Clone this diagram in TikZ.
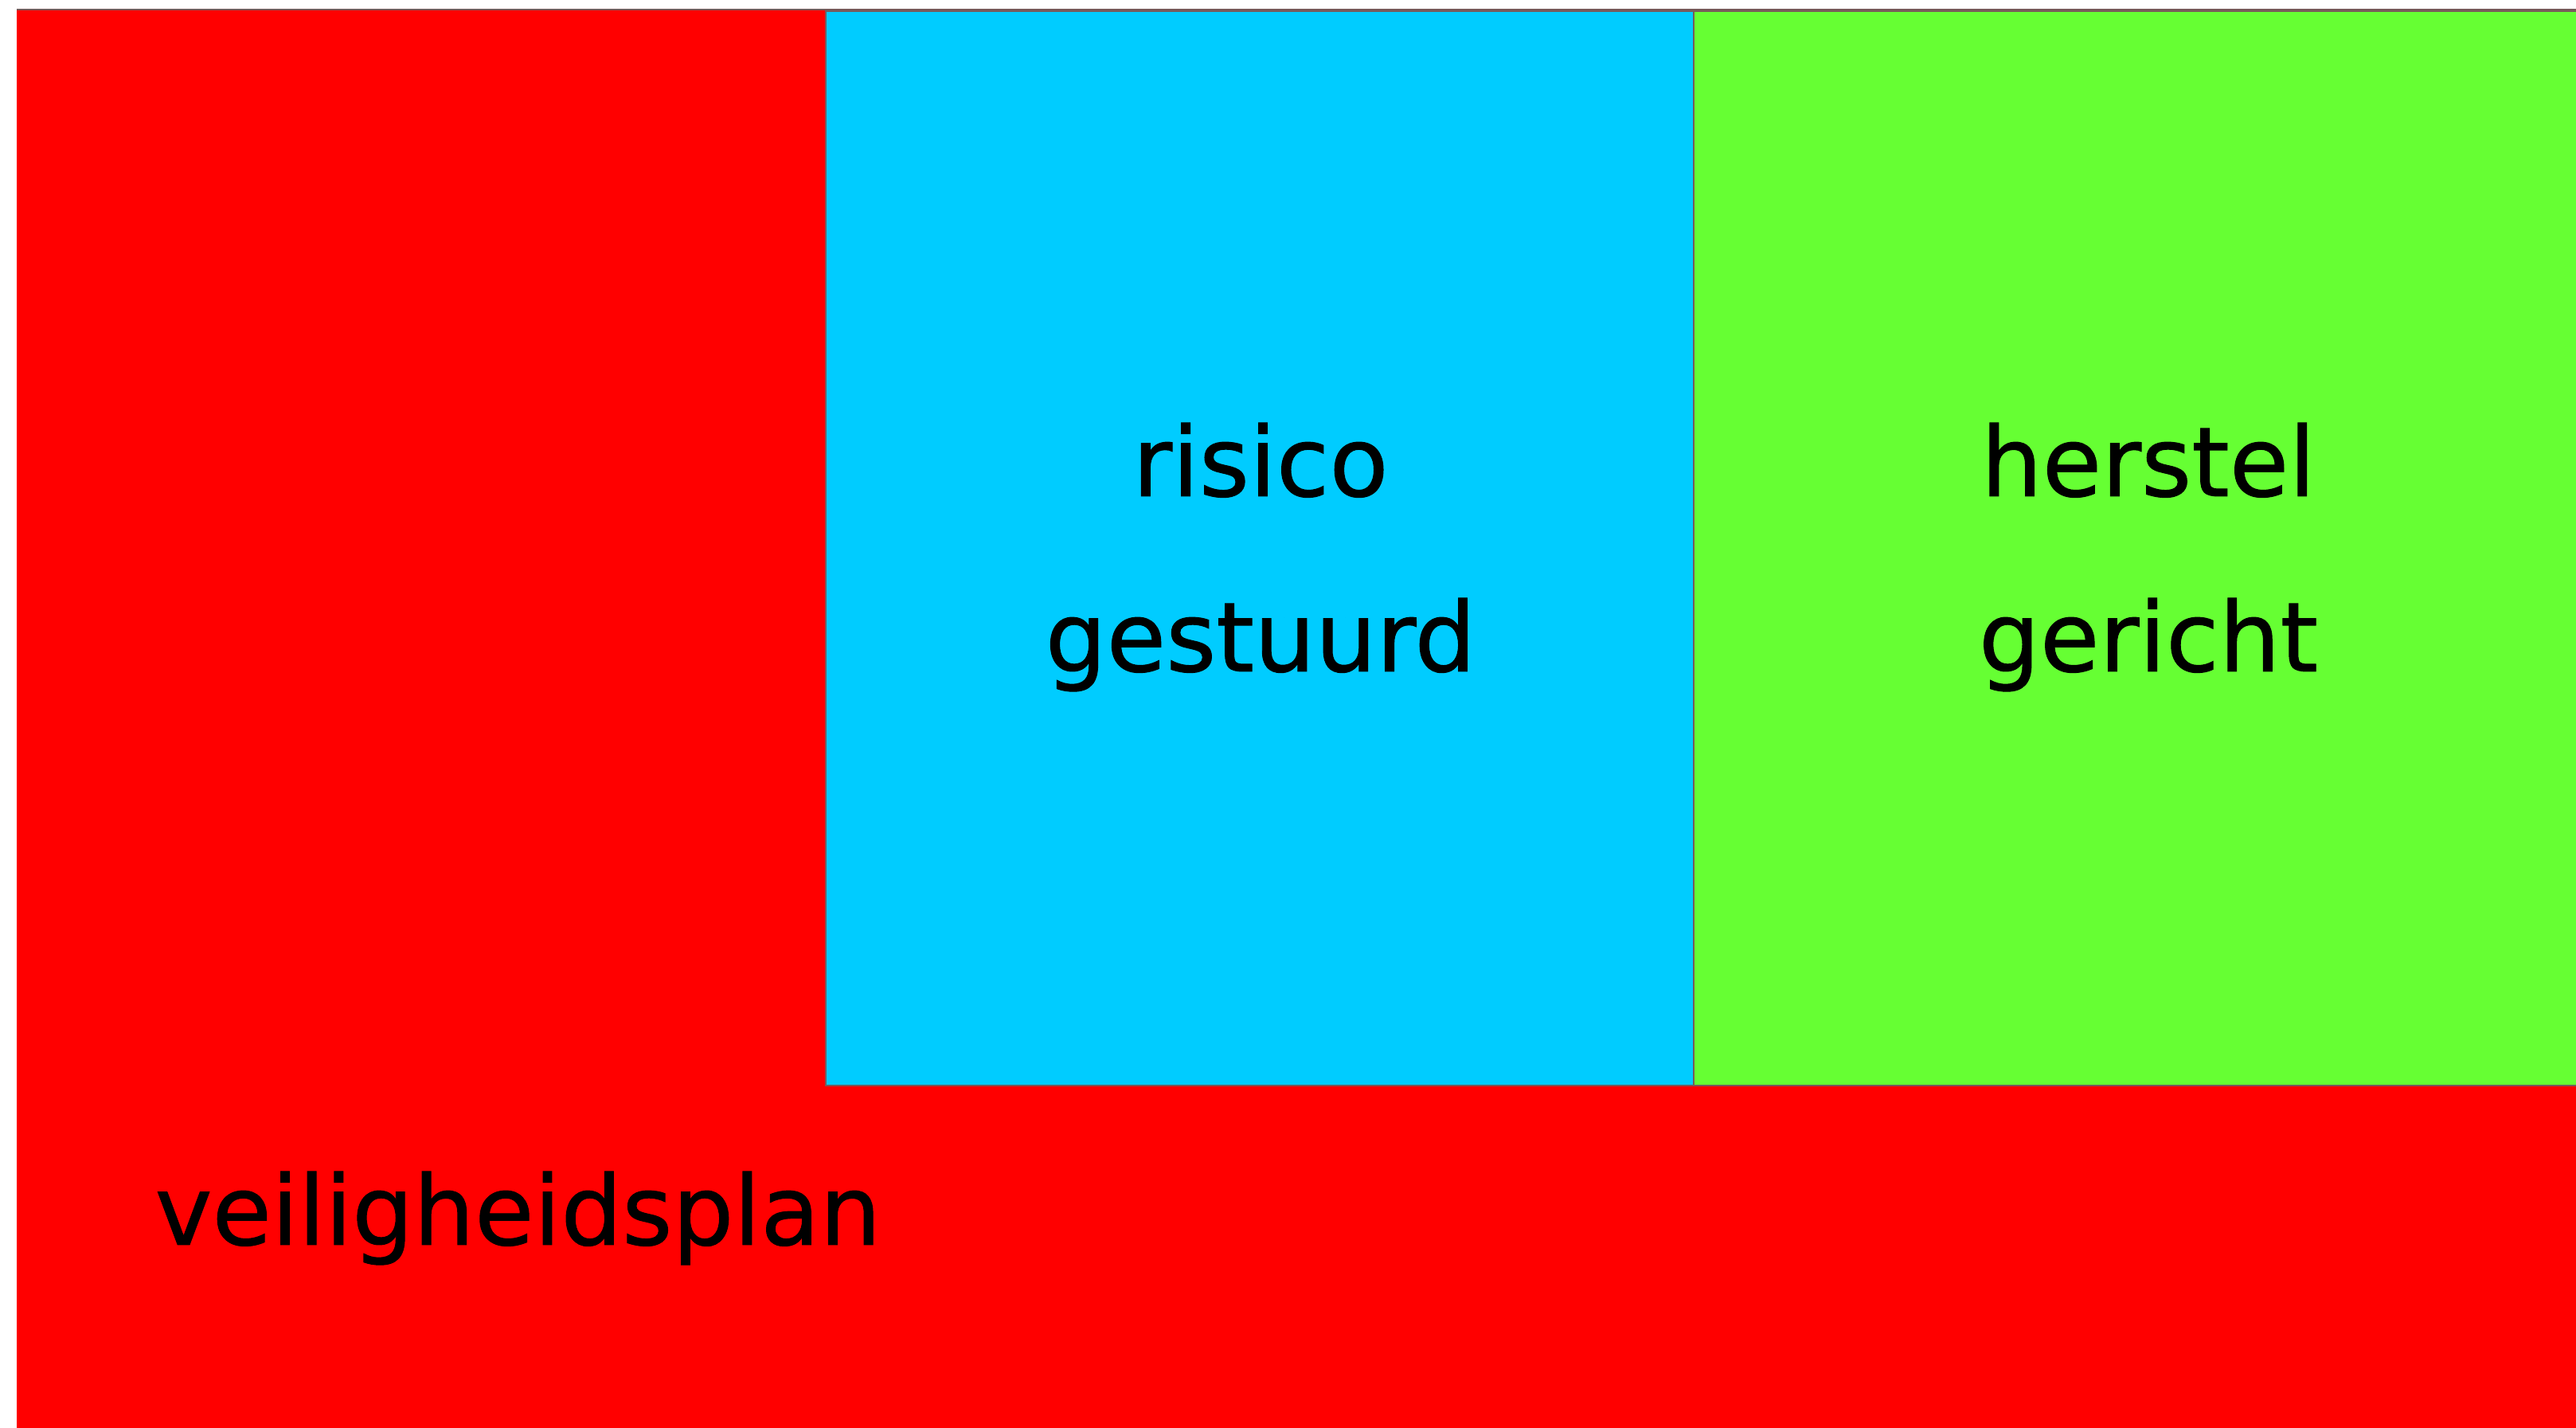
\documentclass[tikz,border=0pt]{standalone}
\usepackage{fontspec}
\setmainfont[FakeBold=0.8]{DejaVu Sans}
\usetikzlibrary{positioning}
\definecolor{planred}{RGB}{255,0,0}
\definecolor{risblue}{RGB}{0,204,255}
\definecolor{hersgreen}{RGB}{102,255,51}
\definecolor{rimgray}{RGB}{120,90,90}

\begin{document}
\begin{tikzpicture}[
   box/.style={draw=rimgray,line width=.7pt},
   lbl/.style={font=\fontsize{34.5}{62.6}\selectfont,align=center,anchor=base,inner sep=0pt}]
   \useasboundingbox (0,0) rectangle (32.35,17.92);
   \fill[white] (0,0) rectangle (32.35,17.92);
   \fill[planred] (0.21,-0.1) rectangle (32.5,17.80);
   \draw[rimgray,line width=.7pt] (0.21,17.80) -- (32.5,17.80);
   \draw[box,fill=risblue] (10.37,4.29) rectangle (21.27,17.78);
   \draw[box,fill=hersgreen] (21.27,4.29) rectangle (32.5,17.78);
   %
   \node[lbl] (ris) at (15.83,9.49) {risico\\gestuurd};
   \node[lbl] (her) at (26.98,9.49) {herstel\\gericht};
   \node[lbl,anchor=base west] (plan) at (1.94,2.29) {veiligheidsplan};
   %
\end{tikzpicture}
\end{document}
